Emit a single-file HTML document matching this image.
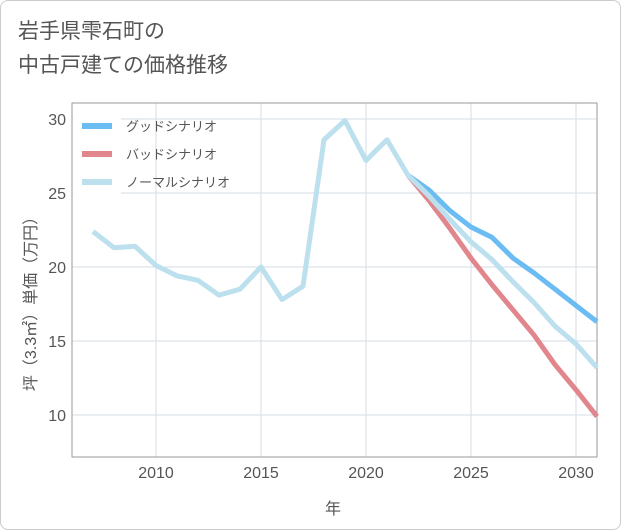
<!DOCTYPE html>
<html><head><meta charset="utf-8"><style>
body{margin:0;background:#fff;font-family:"Liberation Sans","Noto Sans CJK JP",sans-serif;}
#wrap{position:relative;width:619px;height:528px;border:1px solid #ccc;border-radius:8px;overflow:hidden;background:#fff}
#title{position:absolute;left:17px;top:14px;font-size:21px;line-height:34px;color:#555;}
</style></head><body>
<div id="wrap">
<div id="title">岩手県雫石町の<br>中古戸建ての価格推移</div>
<svg id="chart" width="621" height="530" style="position:absolute;left:-1px;top:-1px"></svg>
</div>
<script>
const years=[2007,2008,2009,2010,2011,2012,2013,2014,2015,2016,2017,2018,2019,2020,2021,2022,2023,2024,2025,2026,2027,2028,2029,2030,2031];
const normal=[22.4,21.3,21.4,20.1,19.4,19.1,18.1,18.5,20.0,17.8,18.7,28.6,29.9,27.2,28.6,26.2,24.8,23.2,21.7,20.5,19.0,17.6,16.0,14.8,13.2];
const forecastYears=[2022,2023,2024,2025,2026,2027,2028,2029,2030,2031];
const good=[26.2,25.2,23.8,22.7,22.0,20.6,19.6,18.5,17.4,16.3];
const bad=[26.2,24.5,22.6,20.6,18.8,17.1,15.4,13.4,11.7,9.9];
const xTicks=[2010,2015,2020,2025,2030];
const yTicks=[10,15,20,25,30];
const NS="http://www.w3.org/2000/svg";
const svg=document.getElementById('chart');
const L=72,R=597,T=103,B=457;
const x=v=>156+(v-2010)*21;
const y=v=>119+(30-v)*14.8;
function mk(t,a,p){const e=document.createElementNS(NS,t);for(const k in a)e.setAttribute(k,a[k]);(p||svg).appendChild(e);return e;}
xTicks.forEach(t=>{const l=mk('line',{x1:x(t),x2:x(t),y1:T,y2:B,stroke:'#d5dde6','stroke-width':1});

const tx=mk('text',{x:x(t),y:478,'text-anchor':'middle','font-size':16,fill:'#555'});tx.textContent=t;
});
yTicks.forEach(t=>{const l=mk('line',{x1:L,x2:R,y1:y(t),y2:y(t),stroke:'#d5dde6','stroke-width':1});

const tx=mk('text',{x:66,y:y(t)+6,'text-anchor':'end','font-size':16,fill:'#555'});tx.textContent=t;
});
const lb=mk('rect',{x:73,y:104,width:48,height:93,fill:'#fff'});

const fr=mk('rect',{x:L,y:T,width:R-L,height:B-T,fill:'none',stroke:'#999','stroke-width':1});

function line(xs,vs,c,n){const p=mk('polyline',{points:xs.map((v,i)=>x(v)+','+y(vs[i])).join(' '),fill:'none',stroke:c,'stroke-width':5,'stroke-linejoin':'round'});
}
line(forecastYears,good,'#6bbcf2','good-scenario-line');
line(forecastYears,bad,'#e0868c','bad-scenario-line');
line(years,normal,'#bde0ee','normal-scenario-line');
const leg=[['グッドシナリオ','#6bbcf2'],['バッドシナリオ','#e0868c'],['ノーマルシナリオ','#bde0ee']];
leg.forEach((e,i)=>{const yy=126+i*28;
const r=mk('rect',{x:82,y:yy-3,width:30,height:6,fill:e[1]});
const t=mk('text',{x:126,y:yy+5,'font-size':13,fill:'#555'});t.textContent=e[0];});
const xl=mk('text',{x:333,y:514,'text-anchor':'middle','font-size':16,fill:'#555'});xl.textContent='年';

const yl=mk('text',{x:0,y:0,'text-anchor':'middle','font-size':16,fill:'#555',transform:'translate(36,300) rotate(-90)'});yl.textContent='坪（3.3㎡）単価（万円）';

</script>
</body></html>
